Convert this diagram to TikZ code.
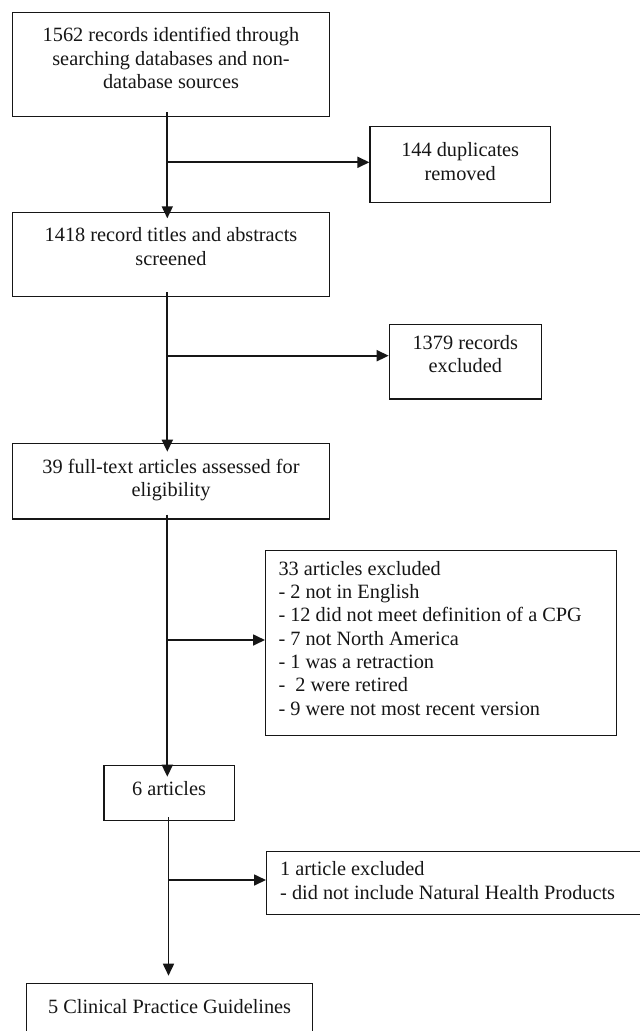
\documentclass[tikz,border=0pt]{standalone}
\usepackage{fontspec}
\setmainfont{Liberation Serif}
\usetikzlibrary{arrows.meta}
\definecolor{ink}{RGB}{22,22,22}
\newcommand{\mystrut}{\rule{0pt}{16pt}}
\begin{document}
\begin{tikzpicture}[x=1pt,y=-1pt,
  box/.style={draw=ink, line width=1.2pt, inner sep=0pt, anchor=north west},
  txt/.style={font=\fontsize{20.3}{23.3}\selectfont, text=ink, inner sep=0pt, align=center, anchor=north},
  ltxt/.style={txt, align=left, anchor=north west},
  arr/.style={draw=ink, line width=1.7pt, -{Triangle[length=12pt,width=11pt]}}]
\useasboundingbox (0,0) rectangle (640,1031);
\fill[white] (0,0) rectangle (640,1031);
\clip (0,0) rectangle (640,1031);

% boxes
\node[box, minimum width=316.4pt, minimum height=104.3pt] (b1) at (12.2,11.7) {};
\node[box, minimum width=180.4pt, minimum height=76pt] (b2) at (369.4,126) {};
\node[box, minimum width=316.4pt, minimum height=84pt] (b3) at (12.2,211.7) {};
\node[box, minimum width=152pt, minimum height=74.3pt] (b4) at (388.7,324) {};
\node[box, minimum width=316.4pt, minimum height=75.3pt] (b5) at (12.2,443) {};
\node[box, minimum width=351pt, minimum height=184.5pt] (b6) at (265,550) {};
\node[box, minimum width=130.2pt, minimum height=55pt] (b7) at (103.3,765) {};
\node[box, minimum width=394pt, minimum height=63pt] (b8) at (266,851) {};
\node[box, minimum width=286pt, minimum height=80pt] (b9) at (26,982.7) {};

% texts
\node[txt] (t1) at ([yshift=-14pt]b1.north) {\mystrut 1562 records identified through\\searching databases and non-\\database sources};
\node[txt] (t2) at ([yshift=-14.7pt]b2.north) {\mystrut 144 duplicates\\removed};
\node[txt] (t3) at ([yshift=-14pt]b3.north) {\mystrut 1418 record titles and abstracts\\screened};
\node[txt] (t4) at ([yshift=-9.3pt]b4.north) {\mystrut 1379 records\\excluded};
\node[txt] (t5) at ([yshift=-14.3pt]b5.north) {\mystrut 39 full-text articles assessed for\\eligibility};
\node[ltxt] (t6) at ([xshift=13.3pt,yshift=-9pt]b6.north west) {\mystrut 33 articles excluded\\- 2 not in English\\- 12 did not meet definition of a CPG\\- 7 not North America\\- 1 was a retraction\\- \ 2 were retired\\- 9 were not most recent version};
\node[txt] (t7) at ([yshift=-14pt]b7.north) {\mystrut 6 articles};
\node[ltxt] (t8) at ([xshift=14pt,yshift=-8.7pt]b8.north west) {\mystrut 1 article excluded\\- did not include Natural Health Products};
\node[txt] (t9) at ([yshift=-14.6pt]b9.north) {\mystrut 5 Clinical Practice Guidelines};

% branch points
\coordinate (j1) at (167.3,162.3);
\coordinate (j2) at (167.3,355.7);
\coordinate (j3) at (167.3,640);
\coordinate (j4) at (168.5,880);

% main flow
\draw[arr, shorten <=-5pt, shorten >=-6.6pt] (b1.south -| j1) -- (b3.north -| j1);
\draw[arr, shorten <=-4.7pt, shorten >=-8.7pt] (b3.south -| j2) -- (b5.north -| j2);
\draw[arr, shorten <=-5pt, shorten >=-11.7pt] (b5.south -| j3) -- (b7.north -| j3);
\draw[arr, shorten <=-4pt, shorten >=7pt] (b7.south -| j4) -- (b9.north -| j4);

% exclusions
\draw[arr] (j1) -- (j1 -| b2.west);
\draw[arr] (j2) -- (j2 -| b4.west);
\draw[arr] (j3) -- (j3 -| b6.west);
\draw[arr] (j4) -- (j4 -| b8.west);
\end{tikzpicture}
\end{document}
